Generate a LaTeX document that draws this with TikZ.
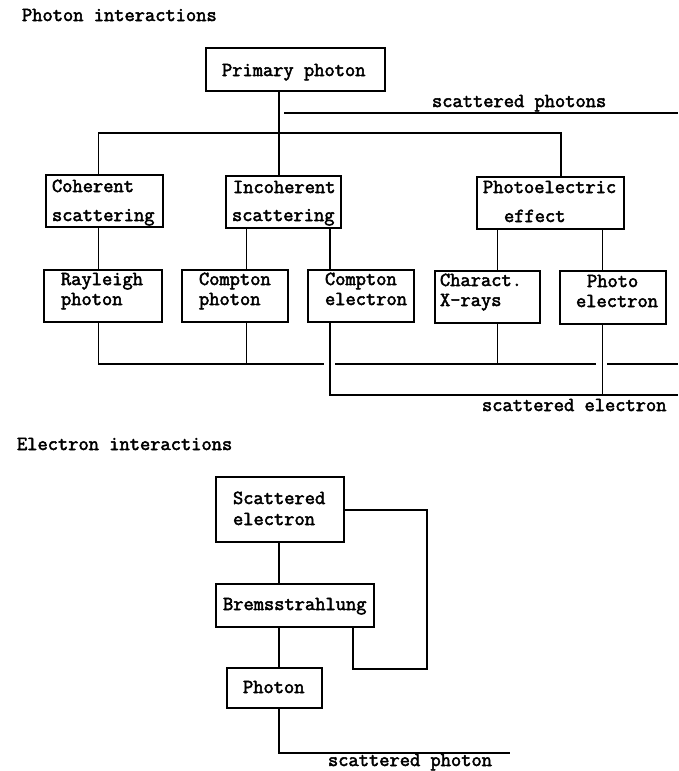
\documentclass[tikz,border=0pt]{standalone}
\usepackage{fontspec}
\newfontfamily\dm[FakeBold=2.5]{Latin Modern Mono}
\begin{document}
\begin{tikzpicture}[x=1pt,y=-1pt,
  bx/.style={draw, line width=1.2pt, rectangle, inner sep=0pt, outer sep=0pt},
  lbl/.style={anchor=base west, inner sep=0pt, outer sep=0pt, font=\dm\fontsize{19.9}{24}\selectfont},
  ln/.style={line width=1.2pt}]
\useasboundingbox (0,0) rectangle (678,771);

% ---------- Photon interactions ----------
\node[lbl] (t1) at (22,21) {Photon interactions};

\node[bx, minimum width=179pt, minimum height=43pt] (prim) at (295.5,69.5) {};
\node[lbl] (primt) at (222,76) {Primary photon};

\node[bx, minimum width=117pt, minimum height=52pt] (coh) at (104.5,201) {};
\node[lbl] (coht1) at (52,192) {Coherent};
\node[lbl] (coht2) at (52,221) {scattering};

\node[bx, minimum width=115pt, minimum height=52pt] (inc) at (283.5,202) {};
\node[lbl] (inct1) at (233,193) {Incoherent};
\node[lbl] (inct2) at (232,221) {scattering};

\node[bx, minimum width=147pt, minimum height=52pt] (pe) at (550.5,203) {};
\node[lbl] (pet1) at (483,193) {Photoelectric};
\node[lbl] (pet2) at (504,222) {effect};

\node[bx, minimum width=118pt, minimum height=52pt] (ray) at (103,296) {};
\node[lbl] (rayt1) at (61,285) {Rayleigh};
\node[lbl] (rayt2) at (61,305) {photon};

\node[bx, minimum width=106pt, minimum height=52pt] (cph) at (235,296) {};
\node[lbl] (cpht1) at (199,285) {Compton};
\node[lbl] (cpht2) at (199,305) {photon};

\node[bx, minimum width=106pt, minimum height=52pt] (cel) at (361,296) {};
\node[lbl] (celt1) at (325,285) {Compton};
\node[lbl] (celt2) at (325,305) {electron};

\node[bx, minimum width=105pt, minimum height=52pt] (cha) at (487.5,297) {};
\node[lbl] (chat1) at (440,286) {Charact.};
\node[lbl] (chat2) at (440,306) {X-rays};

\node[bx, minimum width=106pt, minimum height=53pt] (pel) at (613,297.5) {};
\node[lbl] (pelt1) at (587,287) {Photo};
\node[lbl] (pelt2) at (576,307) {electron};

% coordinates
\coordinate (xa) at (279,0);
\coordinate (xb) at (98.5,0);
\coordinate (xc) at (561,0);
\coordinate (xd) at (246.5,0);
\coordinate (xe) at (330,0);
\coordinate (xf) at (497.5,0);
\coordinate (xg) at (602.5,0);
\coordinate (ybr) at (0,133);
\coordinate (sp0) at (284,113);
\coordinate (sp1) at (678,113);
\coordinate (g1) at (324,364);
\coordinate (g2) at (335,364);
\coordinate (g3) at (596,364);
\coordinate (g4) at (607,364);
\coordinate (rE) at (678,364);
\coordinate (elE) at (678,395);

% connectors
\draw[ln] (prim.south -| xa) -- (inc.north -| xa);
\draw[ln] (coh.north -| xb) -- (xb |- ybr) -- (xc |- ybr) -- (pe.north -| xc);
\draw[ln] (sp0) -- (sp1);
\node[lbl] (spt) at (432,107) {scattered photons};

\draw[ln] (coh.south -| xb) -- (ray.north -| xb);
\draw[ln] (inc.south -| xd) -- (cph.north -| xd);
\draw[ln] (inc.south -| xe) -- (cel.north -| xe);
\draw[ln] (pe.south -| xf) -- (cha.north -| xf);
\draw[ln] (pe.south -| xg) -- (pel.north -| xg);

\draw[ln] (ray.south -| xb) -- (xb |- g1) -- (g1);
\draw[ln] (g2) -- (g3);
\draw[ln] (g4) -- (rE);
\draw[ln] (cph.south -| xd) -- (xd |- g1);
\draw[ln] (cha.south -| xf) -- (xf |- g1);

\draw[ln] (cel.south -| xe) -- (xe |- elE) -- (elE);
\draw[ln] (pel.south -| xg) -- (xg |- elE);
\node[lbl] (set) at (482,411) {scattered electron};

% ---------- Electron interactions ----------
\node[lbl] (t2) at (17,450) {Electron interactions};

\node[bx, minimum width=128pt, minimum height=65pt] (sel) at (280,509.5) {};
\node[lbl] (selt1) at (233,504) {Scattered};
\node[lbl] (selt2) at (233,525) {electron};

\node[bx, minimum width=158pt, minimum height=43pt] (brm) at (295,605.5) {};
\node[lbl] (brmt) at (223,610) {Bremsstrahlung};

\node[bx, minimum width=95pt, minimum height=40pt] (pho) at (274.5,688) {};
\node[lbl] (phot) at (243,693) {Photon};

\coordinate (xm) at (279,0);
\coordinate (lp1) at (427,510);
\coordinate (lp2) at (353,669);
\coordinate (spE) at (510,753);

\draw[ln] (sel.south -| xm) -- (brm.north -| xm);
\draw[ln] (brm.south -| xm) -- (pho.north -| xm);
\draw[ln] (sel.east |- lp1) -- (lp1) -- (lp1 |- lp2) -- (lp2) -- (brm.south -| lp2);
\draw[ln] (pho.south -| xm) -- (xm |- spE) -- (spE);
\node[lbl] (spht) at (328,766) {scattered photon};
\end{tikzpicture}
\end{document}
